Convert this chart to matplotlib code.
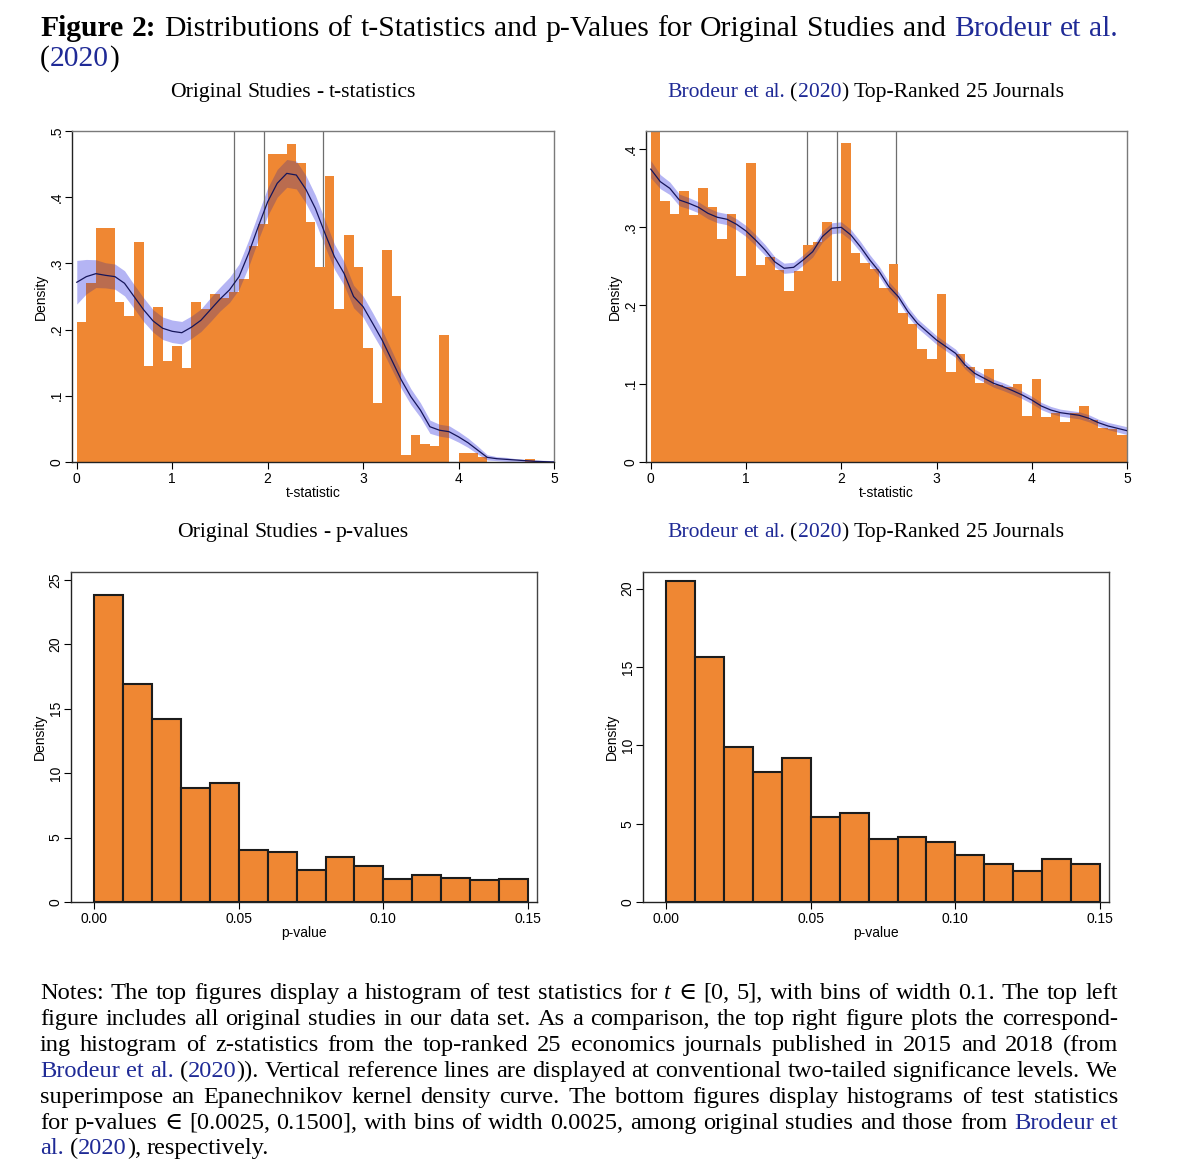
import re
import numpy as np
import matplotlib
matplotlib.use('Agg')
import matplotlib.pyplot as plt
from matplotlib.transforms import IdentityTransform

W, H = 1200, 1161
ORANGE = '#ef8733'
BLUE = '#1f2a96'
BAND = '#b4b4f4'
BAND_OVER = '#573c86'
LINE = '#15155a'
SERIF = ['Liberation Serif', 'DejaVu Serif']
SANS = ['Liberation Sans', 'DejaVu Sans']

# ---------------- data ----------------
t_edges = np.round(np.arange(0, 5.01, 0.1), 2)
orig_t_density = [0.211, 0.270, 0.353, 0.353, 0.241, 0.221, 0.333, 0.1455, 0.234, 0.1526,
                  0.175, 0.1425, 0.241, 0.231, 0.254, 0.247, 0.257, 0.277, 0.327, 0.360,
                  0.465, 0.465, 0.481, 0.452, 0.363, 0.2945, 0.4325, 0.231, 0.343, 0.2945,
                  0.172, 0.0897, 0.320, 0.251, 0.0106, 0.0403, 0.027, 0.0237, 0.192, 0.0,
                  0.014, 0.014, 0.007, 0.0, 0.0, 0.0, 0.0, 0.004, 0.0, 0.0]
brod_t_density = [0.43, 0.333, 0.317, 0.3465, 0.3155, 0.3495, 0.326, 0.2848, 0.3163, 0.238,
                  0.382, 0.252, 0.2614, 0.245, 0.218, 0.244, 0.277, 0.2815, 0.307, 0.2307,
                  0.407, 0.2665, 0.2546, 0.2465, 0.2226, 0.2525, 0.1907, 0.1758, 0.144, 0.1315,
                  0.2146, 0.1145, 0.138, 0.1218, 0.1013, 0.1184, 0.0983, 0.0962, 0.0996, 0.0587,
                  0.1056, 0.057, 0.063, 0.0515, 0.062, 0.0715, 0.0536, 0.043, 0.0417, 0.0345]

kde_x = np.round(np.arange(0, 5.01, 0.1), 2)
orig_kde = [0.2715, 0.280, 0.2845, 0.282, 0.280, 0.270, 0.250, 0.230, 0.213, 0.202,
            0.1974, 0.1953, 0.2035, 0.214, 0.230, 0.246, 0.260, 0.280, 0.315, 0.355,
            0.393, 0.421, 0.436, 0.4335, 0.412, 0.383, 0.3455, 0.310, 0.285, 0.250,
            0.2346, 0.2095, 0.184, 0.154, 0.124, 0.0987, 0.0785, 0.0533, 0.048, 0.0458,
            0.038, 0.029, 0.018, 0.007, 0.005, 0.004, 0.003, 0.002, 0.001, 0.0005, 0.0]
orig_kde_ci = [0.033, 0.026, 0.021, 0.019, 0.019, 0.019, 0.018, 0.018, 0.017, 0.017,
               0.017, 0.017, 0.017, 0.017, 0.018, 0.018, 0.019, 0.019, 0.020, 0.020,
               0.021, 0.021, 0.021, 0.021, 0.021, 0.020, 0.020, 0.019, 0.018, 0.017,
               0.016, 0.016, 0.015, 0.014, 0.013, 0.012, 0.011, 0.010, 0.009, 0.009,
               0.008, 0.007, 0.006, 0.004, 0.003, 0.003, 0.002, 0.002, 0.002, 0.002, 0.002]
brod_kde = [0.374, 0.358, 0.3495, 0.3346, 0.3304, 0.3253, 0.3176, 0.3125, 0.310, 0.3036,
            0.295, 0.2835, 0.2708, 0.2558, 0.2474, 0.2486, 0.258, 0.2686, 0.2877, 0.2985,
            0.2997, 0.290, 0.275, 0.258, 0.243, 0.224, 0.211, 0.192, 0.177, 0.1664,
            0.1558, 0.1473, 0.1388, 0.1239, 0.1133, 0.1069, 0.1005, 0.0962, 0.0911, 0.0856,
            0.0792, 0.0715, 0.0664, 0.063, 0.0613, 0.0596, 0.0558, 0.0502, 0.046, 0.043, 0.040]
brod_kde_ci = [0.011, 0.009, 0.008, 0.0075, 0.0072, 0.007, 0.007, 0.007, 0.007, 0.007,
               0.007, 0.007, 0.0068, 0.0066, 0.0065, 0.0065, 0.0066, 0.0068, 0.007, 0.007,
               0.007, 0.007, 0.0068, 0.0066, 0.0064, 0.0062, 0.006, 0.006, 0.0058, 0.0056,
               0.0055, 0.0054, 0.0053, 0.0052, 0.0051, 0.005, 0.005, 0.005, 0.0049, 0.0048,
               0.0047, 0.0046, 0.0045, 0.0045, 0.0045, 0.0045, 0.0045, 0.0045, 0.0046, 0.0048, 0.005]
crit_values = [1.645, 1.96, 2.576]

p_edges = np.round(np.arange(0, 0.1501, 0.01), 3)
orig_p_density = [23.84, 16.89, 14.23, 8.83, 9.27, 4.00, 3.90, 2.45, 3.49, 2.76,
                  1.78, 2.09, 1.83, 1.68, 1.78]
brod_p_density = [20.49, 15.61, 9.92, 8.30, 9.21, 5.41, 5.65, 4.03, 4.12, 3.80,
                  2.97, 2.40, 2.00, 2.74, 2.42]

t_ticks = [0, 1, 2, 3, 4, 5]
t_ticklabels = ['0', '1', '2', '3', '4', '5']
tl_yticks = [0, 0.1, 0.2, 0.3, 0.4, 0.5]
tl_yticklabels = ['0', '.1', '.2', '.3', '.4', '.5']
tr_yticks = [0, 0.1, 0.2, 0.3, 0.4]
tr_yticklabels = ['0', '.1', '.2', '.3', '.4']
p_ticks = [0, 0.05, 0.10, 0.15]
p_ticklabels = ['0.00', '0.05', '0.10', '0.15']
bl_yticks = [0, 5, 10, 15, 20, 25]
bl_yticklabels = ['0', '5', '10', '15', '20', '25']
br_yticks = [0, 5, 10, 15, 20]
br_yticklabels = ['0', '5', '10', '15', '20']

title_lines = [
    "<<Figure>> <<2:>> Distributions of t-Statistics and p-Values for Original Studies and [[Brodeur]] [[et]] [[al.]]",
    "([[2020]])",
]
sub_left_top = "Original Studies - t-statistics"
sub_left_bot = "Original Studies - p-values"
sub_right = "[[Brodeur]] [[et]] [[al.]] ([[2020]]) Top-Ranked 25 Journals"
notes_lines = [
    "Notes: The top figures display a histogram of test statistics for {{t}} \u2208 [0, 5], with bins of width 0.1. The top left",
    "figure includes all original studies in our data set. As a comparison, the top right figure plots the correspond-",
    "ing histogram of z-statistics from the top-ranked 25 economics journals published in 2015 and 2018 (from",
    "[[Brodeur]] [[et]] [[al.]] ([[2020]])). Vertical reference lines are displayed at conventional two-tailed significance levels. We",
    "superimpose an Epanechnikov kernel density curve. The bottom figures display histograms of test statistics",
    "for p-values \u2208 [0.0025, 0.1500], with bins of width 0.0025, among original studies and those from [[Brodeur]] [[et]]",
    "[[al.]] ([[2020]]), respectively.",
]

# ---------------- figure ----------------
fig = plt.figure(figsize=(W / 100, H / 100), dpi=100)
fig.patch.set_facecolor('white')


def ax_px(l, t, r, b):
    return fig.add_axes([l / W, 1 - b / H, (r - l) / W, (b - t) / H])


def style(ax, l, t, r, b, box_dark=False):
    ax.tick_params(axis='both', direction='out', length=5, width=0.8,
                   labelsize=10, colors='black', pad=2)
    ax.tick_params(axis='y', labelrotation=90, pad=1)
    for lab in ax.get_xticklabels() + ax.get_yticklabels():
        lab.set_family(SANS)
    for s in ['left', 'bottom']:
        ax.spines[s].set_color('#222222')
        ax.spines[s].set_linewidth(1.0)
    for s in ['top', 'right']:
        ax.spines[s].set_color('#444444' if box_dark else '#7a7a7a')
        ax.spines[s].set_linewidth(1.0)
    ax.set_ylabel('Density', fontsize=10, family=SANS)
    ax.yaxis.set_label_coords(-(31) / (r - l), 0.5)
    ax.yaxis.label.set_verticalalignment('center')
    ax.xaxis.label.set_verticalalignment('center')
    ax.xaxis.set_label_coords(0.5, -(31) / (b - t))
    for lab in ax.get_yticklabels():
        lab.set_verticalalignment('center')


def top_panel(ax, dens, kde, ci, ytop, yticks, yticklabels):
    kde = np.array(kde)
    ci = np.array(ci)
    lo, hi = kde - ci, kde + ci
    ax.fill_between(kde_x, lo, hi, color=BAND, lw=0, zorder=1)
    for c in crit_values:
        ax.axvline(c, color='#6e6e6e', lw=0.9, zorder=1.5)
    step = ax.stairs(dens, t_edges, fill=True, color=ORANGE, lw=0, zorder=2)
    ov = ax.fill_between(kde_x, lo, hi, color=BAND_OVER, alpha=0.35, lw=0, zorder=3)
    ov.set_clip_path(step)
    ax.plot(kde_x, kde, color=LINE, lw=0.9, zorder=4)
    ax.set_xlim(-0.05, 5)
    ax.set_ylim(0, ytop)
    ax.set_xticks(t_ticks, t_ticklabels)
    ax.set_yticks(yticks, yticklabels)
    ax.set_xlabel('t-statistic', fontsize=10, family=SANS)


def bottom_panel(ax, dens, ytop, yticks, yticklabels):
    ax.bar(p_edges[:-1], dens, width=0.01, align='edge', color=ORANGE,
           edgecolor='#1c1c1c', lw=1.5, zorder=2)
    ax.set_xlim(-0.0080, 0.1531)
    ax.set_ylim(0, ytop)
    ax.set_xticks(p_ticks, p_ticklabels)
    ax.set_yticks(yticks, yticklabels)
    ax.set_xlabel('p-value', fontsize=10, family=SANS)


ax1 = ax_px(72, 131, 554, 462)
top_panel(ax1, orig_t_density, orig_kde, orig_kde_ci, 0.5, tl_yticks, tl_yticklabels)
style(ax1, 72, 131, 554, 462)

ax2 = ax_px(646, 131, 1127, 462)
top_panel(ax2, brod_t_density, brod_kde, brod_kde_ci, 0.4227, tr_yticks, tr_yticklabels)
style(ax2, 646, 131, 1127, 462)

ax3 = ax_px(71, 572, 537, 902)
bottom_panel(ax3, orig_p_density, 25.6, bl_yticks, bl_yticklabels)
style(ax3, 71, 572, 537, 902, box_dark=True)

ax4 = ax_px(643, 572, 1109, 902)
bottom_panel(ax4, brod_p_density, 21.06, br_yticks, br_yticklabels)
style(ax4, 643, 572, 1109, 902, box_dark=True)

# ---------------- rich text helpers ----------------
R = fig.canvas.get_renderer()


def parse(tok):
    segs = []
    for part in re.split(r'(\[\[.*?\]\]|\{\{.*?\}\}|<<.*?>>)', tok):
        if not part:
            continue
        if part.startswith('[['):
            segs.append((part[2:-2], 'blue'))
        elif part.startswith('{{'):
            segs.append((part[2:-2], 'italic'))
        elif part.startswith('<<'):
            segs.append((part[2:-2], 'bold'))
        else:
            segs.append((part, 'normal'))
    return segs


def make_text(s, st, size):
    kw = dict(fontsize=size, family=SERIF, transform=IdentityTransform(),
              va='baseline', ha='left', color='black')
    if st == 'blue':
        kw['color'] = BLUE
    elif st == 'italic':
        kw['style'] = 'italic'
    elif st == 'bold':
        kw['weight'] = 'bold'
    return fig.text(0, 0, s, **kw)


def build(line, size):
    toks = []
    for tok in line.split(' '):
        parts = []
        for s, st in parse(tok):
            t = make_text(s, st, size)
            parts.append((t, t.get_window_extent(R).width))
        toks.append(parts)
    return toks


def space_w(size):
    a = make_text('a a', 'normal', size)
    b = make_text('aa', 'normal', size)
    w = a.get_window_extent(R).width - b.get_window_extent(R).width
    a.remove()
    b.remove()
    return w


def natural_width(line, size):
    toks = build(line, size)
    w = sum(sum(p[1] for p in parts) for parts in toks) + space_w(size) * (len(toks) - 1)
    for parts in toks:
        for t, _ in parts:
            t.remove()
    return w


def place(line, size, y_px, x_left=None, x_right=None, center=None):
    toks = build(line, size)
    widths = [sum(p[1] for p in parts) for parts in toks]
    sp = space_w(size)
    if x_left is not None and x_right is not None and len(toks) > 1:
        gap = (x_right - x_left - sum(widths)) / (len(toks) - 1)
        x = x_left
    else:
        gap = sp
        tot = sum(widths) + sp * (len(toks) - 1)
        x = center - tot / 2 if center is not None else x_left
    y = H - y_px
    for parts, w in zip(toks, widths):
        xx = x
        for t, ww in parts:
            t.set_position((xx, y))
            xx += ww
        x += w + gap


# sizes fitted to reference widths
title_size = 10 * 1068 / natural_width(title_lines[0], 10)
notes_size = 10 * 1076 / max(natural_width(l, 10) for l in notes_lines[:6])
sub_size = 10 * 398 / natural_width(sub_right, 10)

place(title_lines[0], title_size, 36, x_left=40, x_right=1118)
place(title_lines[1], title_size, 66, x_left=40)

place(sub_left_top, sub_size, 97, center=293)
place(sub_right, sub_size, 97, center=866)
place(sub_left_bot, sub_size, 537, center=293)
place(sub_right, sub_size, 537, center=866)

note_baselines = [999, 1025, 1051, 1077, 1103, 1129, 1154]
for i, (line, yb) in enumerate(zip(notes_lines, note_baselines)):
    if i < 6:
        place(line, notes_size, yb, x_left=40, x_right=1118)
    else:
        place(line, notes_size, yb, x_left=40)

fig.savefig('out.png', dpi=100, facecolor='white')
